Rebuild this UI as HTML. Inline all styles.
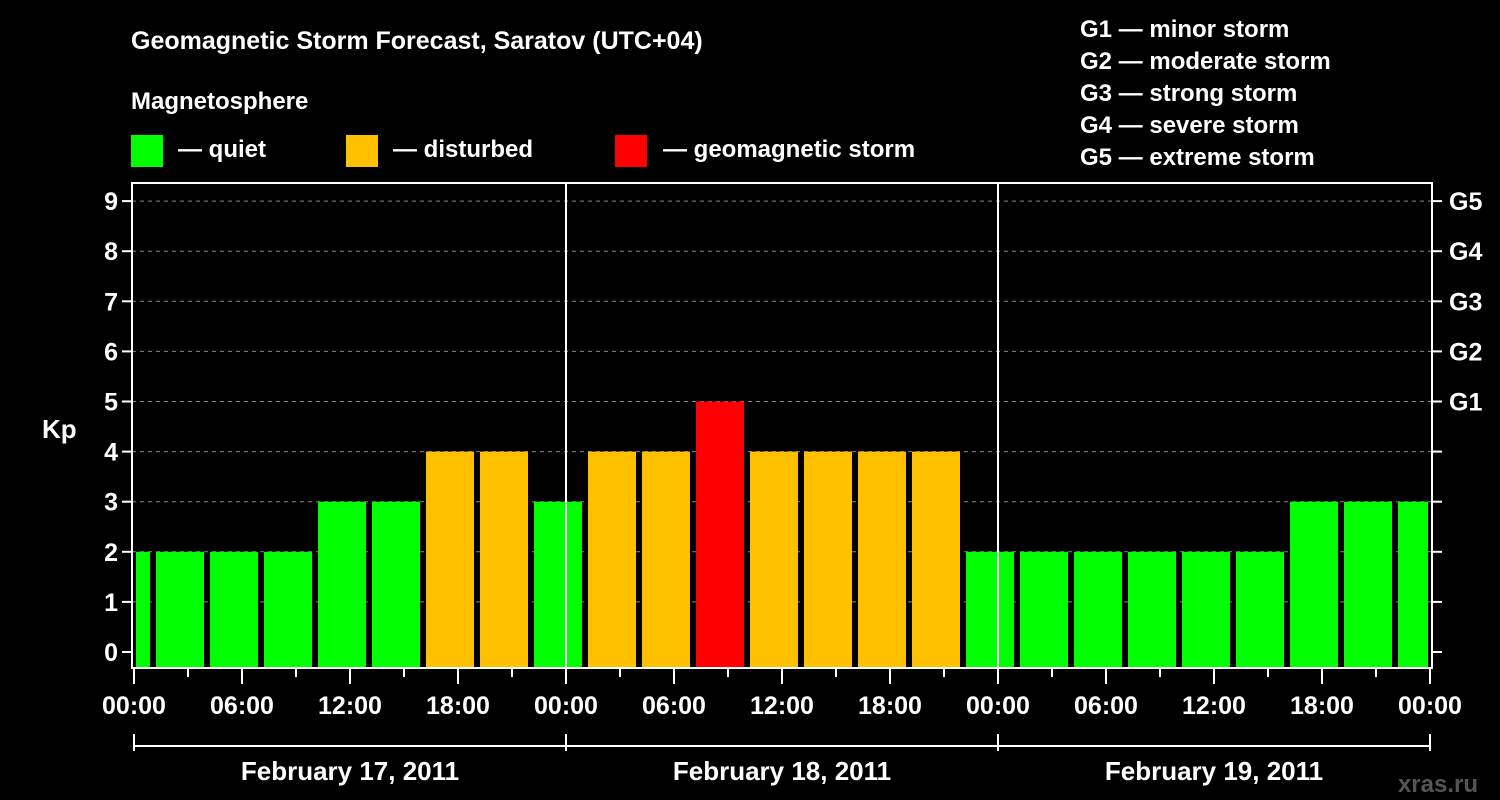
<!DOCTYPE html>
<html><head><meta charset="utf-8"><style>
html,body{margin:0;padding:0;background:#000;}
svg{display:block;font-family:"Liberation Sans",sans-serif;font-weight:bold;}
</style></head><body>
<svg id="chart" width="1500" height="800" viewBox="0 0 1500 800">
<rect x="0" y="0" width="1500" height="800" fill="#000"/>
<text x="131" y="49" fill="#fff" font-size="25">Geomagnetic Storm Forecast, Saratov (UTC+04)</text>
<text x="131" y="109" fill="#fff" font-size="24">Magnetosphere</text>
<g><rect x="131" y="135" width="32" height="32" fill="#00ff00"/><text x="178" y="157" fill="#fff" font-size="24">— quiet</text></g>
<g><rect x="346" y="135" width="32" height="32" fill="#ffc000"/><text x="393" y="157" fill="#fff" font-size="24">— disturbed</text></g>
<g><rect x="615" y="135" width="32" height="32" fill="#ff0000"/><text x="663" y="157" fill="#fff" font-size="24">— geomagnetic storm</text></g>
<g fill="#fff" font-size="24">
<text x="1080" y="37">G1 — minor storm</text>
<text x="1080" y="69">G2 — moderate storm</text>
<text x="1080" y="101">G3 — strong storm</text>
<text x="1080" y="133">G4 — severe storm</text>
<text x="1080" y="165">G5 — extreme storm</text>
</g>
<text x="42" y="438" fill="#fff" font-size="26">Kp</text>
<text x="1478" y="792" fill="#555" font-size="24" text-anchor="end">xras.ru</text>
<g id="plot"></g>
</svg>
<script>
const startHours=[-2,1,4,7,10,13,16,19,22,25,28,31,34,37,40,43,46,49,52,55,58,61,64,67,70];
const kpValues=[2,2,2,2,3,3,4,4,3,4,4,5,4,4,4,4,2,2,2,2,2,2,3,3,3];
const yTicks=[0,1,2,3,4,5,6,7,8,9];
const gLabels=["G1","G2","G3","G4","G5"];
const xTickLabels=["00:00","06:00","12:00","18:00","00:00","06:00","12:00","18:00","00:00","06:00","12:00","18:00","00:00"];
const dayLabels=["February 17, 2011","February 18, 2011","February 19, 2011"];
const NS="http://www.w3.org/2000/svg";
const X0=134,PXH=18,Y0=652,PXK=50.1,LEFT=132,RIGHT=1432,TOP=183,BOT=668;
const xs=h=>X0+h*PXH, ys=k=>Y0-k*PXK;
const plot=document.getElementById('plot');
function mk(t,a,p){const e=document.createElementNS(NS,t);for(const k in a)e.setAttribute(k,a[k]);(p||plot).appendChild(e);return e;}
function col(k){return k>=5?"#ff0000":k>=4?"#ffc000":"#00ff00";}
yTicks.forEach(k=>{if(k>0){const l=mk('line',{x1:LEFT,x2:RIGHT,y1:ys(k),y2:ys(k),stroke:'#888','stroke-dasharray':'4,4','stroke-width':1});

}});
startHours.forEach((h,i)=>{
 let a=Math.max(h,0),b=Math.min(h+3,72);
 let x1=xs(a)+(h<0?2:4), x2=xs(b)-2;
 const r=mk('rect',{x:x1,y:ys(kpValues[i]),width:x2-x1,height:BOT-ys(kpValues[i]),fill:col(kpValues[i])});
 
 
});
[24,48].forEach(h=>{const l=mk('line',{x1:xs(h),x2:xs(h),y1:TOP,y2:BOT,stroke:'#fff','stroke-width':2});

});
const fr=mk('rect',{x:LEFT,y:TOP,width:RIGHT-LEFT,height:BOT-TOP,fill:'none',stroke:'#fff','stroke-width':2});


yTicks.forEach(k=>{
 mk('line',{x1:LEFT-10,x2:LEFT,y1:ys(k),y2:ys(k),stroke:'#fff','stroke-width':2});
 mk('line',{x1:RIGHT,x2:RIGHT+10,y1:ys(k),y2:ys(k),stroke:'#fff','stroke-width':2});
 const t=mk('text',{x:LEFT-14,y:ys(k)+9,fill:'#fff','font-size':25,'text-anchor':'end'});t.textContent=k;
 
 
 if(k>=5){const g=mk('text',{x:RIGHT+17,y:ys(k)+9,fill:'#fff','font-size':25});g.textContent=gLabels[k-5];
 
 }
});
for(let h=0;h<=72;h+=3){mk('line',{x1:xs(h),x2:xs(h),y1:BOT,y2:BOT+(h%6==0?16:9),stroke:'#fff','stroke-width':2});}
xTickLabels.forEach((s,i)=>{const t=mk('text',{x:xs(i*6),y:714,fill:'#fff','font-size':25,'text-anchor':'middle'});t.textContent=s;
 
 });
mk('line',{x1:xs(0),x2:xs(72),y1:746,y2:746,stroke:'#fff','stroke-width':2});
[0,24,48,72].forEach(h=>mk('line',{x1:xs(h),x2:xs(h),y1:734,y2:751,stroke:'#fff','stroke-width':2}));
dayLabels.forEach((s,i)=>{const t=mk('text',{x:xs(i*24+12),y:780,fill:'#fff','font-size':26,'text-anchor':'middle'});t.textContent=s;
 
 });
</script>
</body></html>
